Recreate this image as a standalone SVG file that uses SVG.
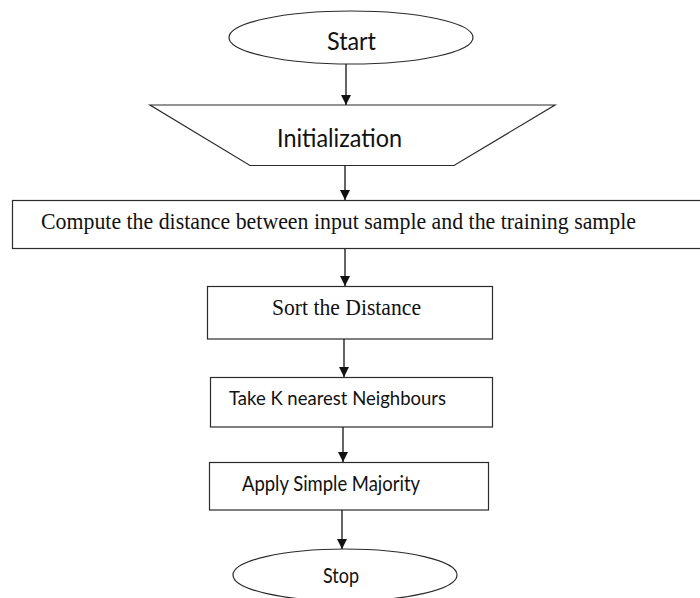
<svg xmlns="http://www.w3.org/2000/svg" width="700" height="598" viewBox="0 0 700 598">
  <style>
    .shape { fill: #ffffff; stroke: #2b2b2b; stroke-width: 1.2; }
    .link { stroke: #111111; stroke-width: 1.3; fill: none; }
    .sans { font-family: Lato, "Open Sans", "Liberation Sans", sans-serif; fill: #111111; }
    .serif { font-family: "Liberation Serif", "Times New Roman", serif; fill: #111111; }
  </style>
  <defs>
    <marker id="arrow" viewBox="0 0 10 10" refX="10" refY="5" markerWidth="10" markerHeight="10" markerUnits="userSpaceOnUse" orient="auto">
      <path d="M0,0 L10,5 L0,10 Z" fill="#111111"/>
    </marker>
  </defs>
  <rect width="700" height="598" fill="#ffffff"/>

  <g id="start">
    <ellipse class="shape" cx="351" cy="37.5" rx="122" ry="26.5"/>
    <text class="sans" x="327" y="50" font-size="25" textLength="49" lengthAdjust="spacingAndGlyphs">Start</text>
  </g>

  <g id="init">
    <polygon class="shape" points="150,105 555,105 454,165.5 250,165.5"/>
    <text class="sans" x="277" y="147" font-size="25" textLength="125" lengthAdjust="spacingAndGlyphs">Initialization</text>
  </g>

  <g id="compute">
    <rect class="shape" x="12.5" y="200.5" width="700" height="48"/>
    <text class="serif" x="41" y="229" font-size="23.5" textLength="595" lengthAdjust="spacingAndGlyphs">Compute the distance between input sample and the training sample</text>
  </g>

  <g id="sort">
    <rect class="shape" x="207.5" y="286.5" width="285" height="52.5"/>
    <text class="serif" x="272" y="315" font-size="24" textLength="149" lengthAdjust="spacingAndGlyphs">Sort the Distance</text>
  </g>

  <g id="knn">
    <rect class="shape" x="210.5" y="377.5" width="282" height="49.5"/>
    <text class="sans" x="229" y="405" font-size="19.5" textLength="217" lengthAdjust="spacingAndGlyphs">Take K nearest Neighbours</text>
  </g>

  <g id="majority">
    <rect class="shape" x="209.5" y="462.5" width="279" height="47.5"/>
    <text class="sans" x="242" y="491" font-size="20.5" textLength="178" lengthAdjust="spacingAndGlyphs">Apply Simple Majority</text>
  </g>

  <g id="stop">
    <ellipse class="shape" cx="345" cy="575" rx="112" ry="26"/>
    <text class="sans" x="323" y="583" font-size="20.5" textLength="36" lengthAdjust="spacingAndGlyphs">Stop</text>
  </g>

  <g id="connectors">
    <line class="link" x1="346" y1="64" x2="346" y2="105" marker-end="url(#arrow)"/>
    <line class="link" x1="345" y1="165.5" x2="345" y2="200" marker-end="url(#arrow)"/>
    <line class="link" x1="345" y1="249" x2="345" y2="286" marker-end="url(#arrow)"/>
    <line class="link" x1="344" y1="339" x2="344" y2="377" marker-end="url(#arrow)"/>
    <line class="link" x1="343" y1="427" x2="343" y2="462" marker-end="url(#arrow)"/>
    <line class="link" x1="342" y1="510" x2="342" y2="549" marker-end="url(#arrow)"/>
  </g>
</svg>
